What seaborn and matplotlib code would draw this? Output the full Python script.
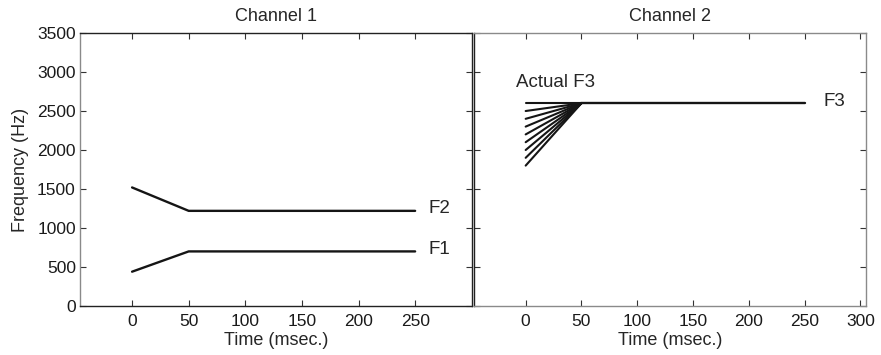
import numpy as np
import pandas as pd
import matplotlib
matplotlib.use('Agg')
import matplotlib.pyplot as plt
import seaborn as sns

# ---- data ----
time_pts = [0, 50, 250]
f1_vals = [440, 700, 700]
f2_vals = [1520, 1220, 1220]

f3_onsets = [1800, 1900, 2000, 2100, 2200, 2300, 2400, 2500, 2600]
f3_target = 2600
f3_end = 250
f3_join = 50

yticks = [0, 500, 1000, 1500, 2000, 2500, 3000, 3500]
xticks_1 = [0, 50, 100, 150, 200, 250]
xticks_2 = [0, 50, 100, 150, 200, 250, 300]

sns.set_style('ticks')
plt.rcParams['font.family'] = ['Liberation Sans', 'DejaVu Sans']
plt.rcParams['font.size'] = 13

# ---- tables ----
ch1 = pd.DataFrame({
    'time': time_pts * 2,
    'freq': f1_vals + f2_vals,
    'track': ['F1'] * 3 + ['F2'] * 3,
})

rows = []
for i, v in enumerate(f3_onsets):
    rows.append({'time': 0, 'freq': v, 'track': i})
    rows.append({'time': f3_join, 'freq': f3_target, 'track': i})
ch2_fan = pd.DataFrame(rows)
ch2_flat = pd.DataFrame({'time': [f3_join, f3_end], 'freq': [f3_target, f3_target]})

fig = plt.figure(figsize=(8.81, 3.55), dpi=100)
ax1 = fig.add_axes([0.0908, 0.138, 0.4453, 0.769])
ax2 = fig.add_axes([0.5384, 0.138, 0.4446, 0.769])

sns.lineplot(data=ch1, x='time', y='freq', units='track', estimator=None,
             color='#151515', lw=1.7, ax=ax1)
sns.lineplot(data=ch2_fan, x='time', y='freq', units='track', estimator=None,
             color='#151515', lw=1.5, ax=ax2)
sns.lineplot(data=ch2_flat, x='time', y='freq', color='#151515', lw=1.7, ax=ax2)

ax1.text(262, f2_vals[-1] + 35, 'F2', va='center', ha='left', fontsize=13.5)
ax1.text(262, f1_vals[-1] + 25, 'F1', va='center', ha='left', fontsize=13.5)
ax2.text(267, f3_target + 20, 'F3', va='center', ha='left', fontsize=13.5)
ax2.text(-9, 2870, 'Actual F3', va='center', ha='left', fontsize=13.5)

ax1.set_xlim(-46, 300.5)
ax2.set_xlim(-46, 305)
for ax in (ax1, ax2):
    ax.set_ylim(0, 3500)
    ax.set_yticks(yticks)
    ax.set_xlabel('Time (msec.)', labelpad=2, fontsize=13)
    ax.tick_params(direction='in', length=4, width=0.8, colors='#333333',
                   labelcolor='#1a1a1a', labelsize=12.5, top=True, right=True)
    ax.tick_params(axis='x', pad=6)
    ax.tick_params(axis='y', pad=3)
    for s in ax.spines.values():
        s.set_linewidth(1.0)

ax1.set_xticks(xticks_1)
ax2.set_xticks(xticks_2)
ax1.set_ylabel('Frequency (Hz)', labelpad=6, fontsize=13)
ax2.set_ylabel('')
ax2.tick_params(labelleft=False)

ax1.set_title('Channel 1', fontsize=13, pad=9)
ax2.set_title('Channel 2', fontsize=13, pad=9)

# spine colours as in the original
ax1.spines['left'].set_color('#8a8a8a')
for k in ('top', 'bottom', 'right'):
    ax1.spines[k].set_color('#222222')
ax2.spines['left'].set_color('#222222')
for k in ('top', 'bottom', 'right'):
    ax2.spines[k].set_color('#8a8a8a')

fig.savefig('out.png', dpi=100)
plt.close(fig)
